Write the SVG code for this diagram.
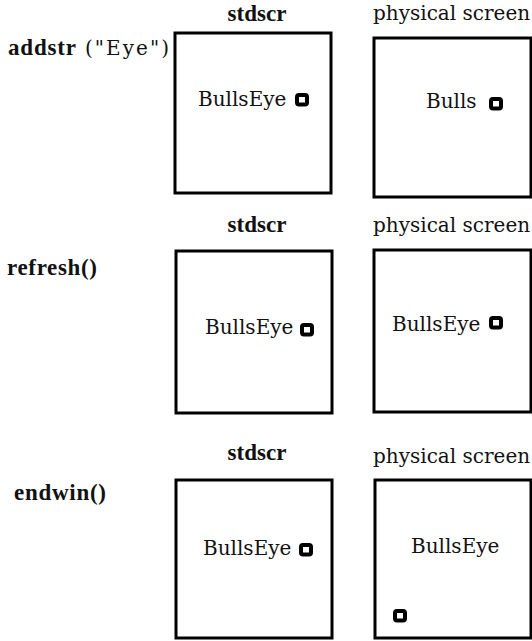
<svg xmlns="http://www.w3.org/2000/svg" width="532" height="641" viewBox="0 0 532 641">
<style>
.box{fill:#fff;stroke:#000;stroke-width:3}
.cur{fill:#fff;stroke:#000;stroke-width:4}
.t{font-family:"DejaVu Serif","Liberation Serif",serif;font-size:20px;fill:#111}
.b{font-family:"Liberation Serif","DejaVu Serif",serif;font-size:23px;font-weight:bold;fill:#111}
</style>
<defs>
<rect id="cursor" class="cur" x="0" y="0" width="10" height="9.5" rx="2"/>
</defs>
<rect width="532" height="641" fill="#fff"/>
<g id="connectors"/>

<!-- Row 1 -->
<g id="cmd-addstr">
<text class="b" x="8" y="55" textLength="68" lengthAdjust="spacing">addstr</text>
<text class="t" x="85" y="55" textLength="84" lengthAdjust="spacing">("Eye")</text>
</g>
<g id="stdscr-1">
<text class="b" x="257" y="21" text-anchor="middle">stdscr</text>
<rect class="box" x="175" y="33" width="156" height="160"/>
<text class="t" x="198" y="106">BullsEye</text>
<use href="#cursor" x="297" y="95"/>
</g>
<g id="physical-1">
<text class="t" x="373" y="20">physical screen</text>
<rect class="box" x="374" y="38" width="157" height="159"/>
<text class="t" x="426" y="108">Bulls</text>
<use href="#cursor" x="491" y="99"/>
</g>

<!-- Row 2 -->
<g id="cmd-refresh">
<text class="b" x="7" y="275" textLength="90" lengthAdjust="spacing">refresh()</text>
</g>
<g id="stdscr-2">
<text class="b" x="257" y="232" text-anchor="middle">stdscr</text>
<rect class="box" x="176" y="251" width="156" height="162"/>
<text class="t" x="205" y="334">BullsEye</text>
<use href="#cursor" x="302" y="325"/>
</g>
<g id="physical-2">
<text class="t" x="373" y="232">physical screen</text>
<rect class="box" x="374" y="250" width="157" height="162"/>
<text class="t" x="392" y="331">BullsEye</text>
<use href="#cursor" x="491" y="318"/>
</g>

<!-- Row 3 -->
<g id="cmd-endwin">
<text class="b" x="14" y="500" textLength="92" lengthAdjust="spacing">endwin()</text>
</g>
<g id="stdscr-3">
<text class="b" x="257" y="460" text-anchor="middle">stdscr</text>
<rect class="box" x="176" y="480" width="156" height="158"/>
<text class="t" x="203" y="555">BullsEye</text>
<use href="#cursor" x="301" y="545"/>
</g>
<g id="physical-3">
<text class="t" x="373" y="463">physical screen</text>
<rect class="box" x="375" y="480" width="156" height="158"/>
<text class="t" x="411" y="553">BullsEye</text>
<use href="#cursor" x="395" y="611"/>
</g>
</svg>
